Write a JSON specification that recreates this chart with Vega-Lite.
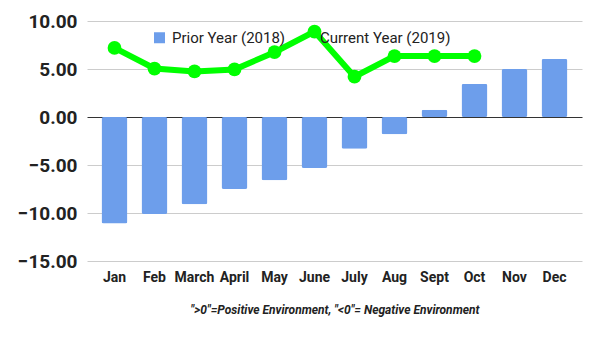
{
  "$schema": "https://vega.github.io/schema/vega-lite/v6.json",
  "width": 495,
  "height": 240,
  "autosize": {"type": "none"},
  "padding": {"left": 87, "top": 21, "right": 18, "bottom": 76},
  "background": "white",
  "config": {"view": {"stroke": null}, "font": "Roboto"},
  "data": {
    "values": [
      {"month": "Jan", "series": "Prior Year (2018)", "value": -11.1},
      {"month": "Feb", "series": "Prior Year (2018)", "value": -10.1},
      {"month": "March", "series": "Prior Year (2018)", "value": -9.1},
      {"month": "April", "series": "Prior Year (2018)", "value": -7.5},
      {"month": "May", "series": "Prior Year (2018)", "value": -6.6},
      {"month": "June", "series": "Prior Year (2018)", "value": -5.3},
      {"month": "July", "series": "Prior Year (2018)", "value": -3.3},
      {"month": "Aug", "series": "Prior Year (2018)", "value": -1.8},
      {"month": "Sept", "series": "Prior Year (2018)", "value": 0.75},
      {"month": "Oct", "series": "Prior Year (2018)", "value": 3.45},
      {"month": "Nov", "series": "Prior Year (2018)", "value": 5.0},
      {"month": "Dec", "series": "Prior Year (2018)", "value": 6.05},
      {"month": "Jan", "series": "Current Year (2019)", "value": 7.2},
      {"month": "Feb", "series": "Current Year (2019)", "value": 5.05},
      {"month": "March", "series": "Current Year (2019)", "value": 4.75},
      {"month": "April", "series": "Current Year (2019)", "value": 4.95},
      {"month": "May", "series": "Current Year (2019)", "value": 6.75},
      {"month": "June", "series": "Current Year (2019)", "value": 8.9},
      {"month": "July", "series": "Current Year (2019)", "value": 4.2},
      {"month": "Aug", "series": "Current Year (2019)", "value": 6.35},
      {"month": "Sept", "series": "Current Year (2019)", "value": 6.35},
      {"month": "Oct", "series": "Current Year (2019)", "value": 6.35}
    ]
  },
  "encoding": {
    "x": {
      "field": "month",
      "type": "nominal",
      "sort": ["Jan", "Feb", "March", "April", "May", "June", "July", "Aug", "Sept", "Oct", "Nov", "Dec"],
      "scale": {"paddingInner": 0.35, "paddingOuter": 0.3625},
      "axis": {
        "title": "\">0\"=Positive Environment, \"<0\"= Negative Environment",
        "titleFont": "Roboto",
        "titleFontSize": 12,
        "titleFontStyle": "italic",
        "titleFontWeight": "bold",
        "titleColor": "#222222",
        "titlePadding": 20,
        "labelAngle": 0,
        "labelFont": "Roboto",
        "labelFontSize": 14,
        "labelFontWeight": "bold",
        "labelColor": "#222222",
        "labelPadding": 9,
        "ticks": false,
        "domain": false
      }
    },
    "y": {
      "field": "value",
      "type": "quantitative",
      "scale": {"domain": [-15, 10], "nice": false},
      "axis": {
        "title": null,
        "values": [-15, -10, -5, 0, 5, 10],
        "format": ".2f",
        "labelFont": "Roboto",
        "labelFontSize": 19,
        "labelFontWeight": "bold",
        "labelColor": "#222222",
        "labelPadding": 10,
        "ticks": false,
        "domain": false,
        "gridColor": {"condition": {"test": "datum.value === 0", "value": "#333333"}, "value": "#cccccc"}
      }
    },
    "color": {
      "field": "series",
      "type": "nominal",
      "scale": {"domain": ["Prior Year (2018)", "Current Year (2019)"], "range": ["#6d9eeb", "#00ff00"]},
      "legend": {
        "orient": "none",
        "legendX": 65,
        "legendY": 9,
        "direction": "horizontal",
        "title": null,
        "symbolType": "square",
        "symbolSize": 121,
        "symbolStrokeWidth": 0,
        "labelFont": "Roboto",
        "labelFontSize": 15,
        "labelColor": "#222222",
        "labelOffset": 5,
        "columnPadding": 14,
        "encode": {
          "symbols": {"update": {"opacity": {"signal": "datum.value === 'Current Year (2019)' ? 0 : 1"}}}
        }
      }
    }
  },
  "layer": [
    {
      "transform": [{"filter": "datum.series === 'Prior Year (2018)'"}],
      "mark": {"type": "bar", "cornerRadius": 2}
    },
    {
      "transform": [{"filter": "datum.series === 'Current Year (2019)'"}],
      "mark": {"type": "line", "strokeWidth": 6, "point": {"filled": true, "size": 190, "opacity": 1}}
    }
  ]
}
